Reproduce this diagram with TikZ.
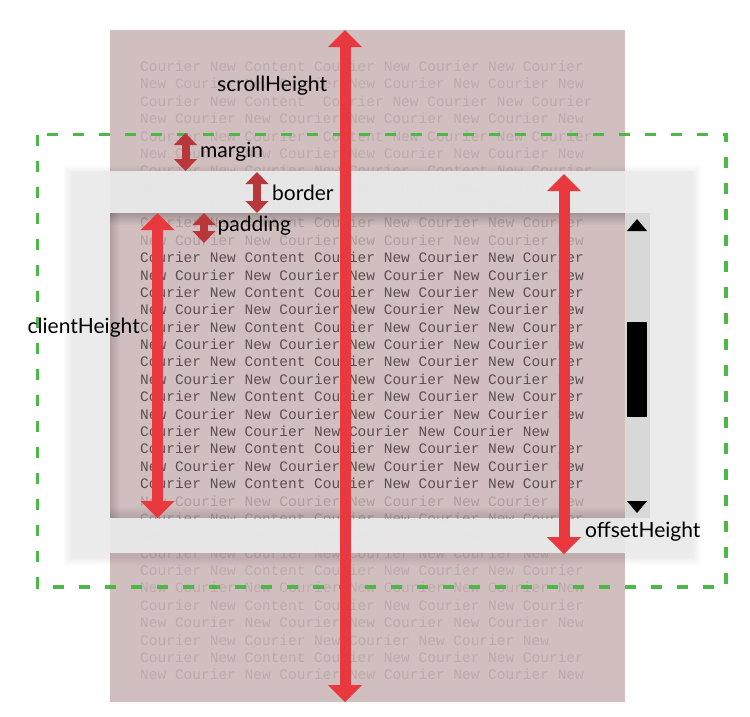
\documentclass[tikz,border=0pt]{standalone}
\usepackage{fontspec}
\setmainfont{Lato}
\newfontfamily\courfont{Liberation Mono}
\usetikzlibrary{arrows.meta,fadings}
\definecolor{contentbg}{RGB}{209,190,191}
\definecolor{fadetext}{RGB}{190,170,172}
\definecolor{midtext}{RGB}{176,156,158}
\definecolor{darktext}{RGB}{90,80,82}
\definecolor{boxgray}{RGB}{235,235,235}
\definecolor{barbg}{RGB}{216,216,216}
\definecolor{dashgreen}{RGB}{76,184,72}
\definecolor{bigred}{RGB}{233,56,62}
\definecolor{smallred}{RGB}{184,55,58}
\tikzfading[name=fadedown, top color=transparent!0, bottom color=transparent!100]
\tikzfading[name=fadeup, top color=transparent!100, bottom color=transparent!0]
\tikzfading[name=faderight, left color=transparent!0, right color=transparent!100]
\newcommand\cnA{Courier New Content Courier New Courier New Courier}
\newcommand\cnB{New Courier New Courier New Courier New Courier New}
\newcommand\cnC{Courier New Content\space\space Courier New Courier New Courier}
\newcommand\cnD{Courier New Courier New Courier New Courier New}
\newcommand\cnE{Courier New Courier\space\space Content New Courier New Courier}
\newcommand\cnF{Courier New Courier New Courier\space\space Content New Courier}
\tikzset{
  codeline/.style={anchor=base west, inner sep=0pt, font=\courfont\fontsize{14.5}{17}\selectfont},
  lbl/.style={anchor=base west, inner sep=0pt, font=\fontsize{21}{25}\selectfont, text=black},
  bigarrow/.style={bigred, line width=11pt,
    {Triangle[width=34pt,length=17pt,line width=0pt]}-{Triangle[width=34pt,length=17pt,line width=0pt]}},
  smallarrow/.style={smallred, line width=8pt,
    {Triangle[width=23pt,length=12pt,line width=0pt]}-{Triangle[width=23pt,length=12pt,line width=0pt]}},
  marginbox/.style={dashgreen, line width=3.5pt, dash pattern=on 11pt off 15pt}
}
\begin{document}
\begin{tikzpicture}[x=1pt,y=-1pt]
\useasboundingbox (0,0) rectangle (750,716);
\fill[white] (0,0) rectangle (750,716);
% scrollable content
\fill[contentbg] (110,30) rectangle (625,702);
\foreach \t [count=\i from 0] in {\cnA,\cnB,\cnC,\cnB,\cnE,\cnB,\cnF,\cnB,\cnA,\cnA,\cnB,\cnA,\cnB,\cnA,\cnB,\cnA,\cnB,\cnA,\cnB,\cnA,\cnB,\cnD,\cnA,\cnB,\cnA,\cnB,\cnA,\cnB,\cnD,\cnA,\cnB,\cnA,\cnB,\cnD,\cnA,\cnB}{
  \node[codeline, text=fadetext] (row\i) at (140,71.5+17.38*\i) {\t};
}
% margin box
\draw[marginbox] (37.5,134.5) rectangle (726,587);
% outer box shadow
\foreach \k in {1,...,9}{
  \fill[black, opacity=0.008] (72-\k,174-\k) rectangle (692+\k,557+\k);
}
\fill[boxgray, opacity=0.92] (72,171) rectangle (692,553);
% viewport
\begin{scope}
\clip (110,213) rectangle (625,518);
\fill[contentbg] (110,213) rectangle (625,518);
\foreach \t [count=\i from 9] in {\cnA,\cnB,\cnA,\cnB,\cnA,\cnB,\cnA,\cnB,\cnA,\cnB,\cnA,\cnB,\cnD,\cnA,\cnB,\cnA,\cnB,\cnA}{
  \pgfmathsetmacro\tc{(\i>10 && \i<25) ? 1 : 0}
  \ifdim\tc pt>0.5pt
    \node[codeline, text=darktext] (vrow\i) at (140,71.5+17.38*\i) {\t};
  \else
    \node[codeline, text=midtext] (vrow\i) at (140,71.5+17.38*\i) {\t};
  \fi
}
\fill[black, opacity=0.22, path fading=fadedown] (110,213) rectangle (625,225);
\fill[black, opacity=0.15, path fading=fadeup] (110,506) rectangle (625,518);
\fill[black, opacity=0.15, path fading=faderight] (110,213) rectangle (120,518);
\end{scope}
% scrollbar
\fill[barbg] (625,213) rectangle (650,518);
\fill[black] (627,322) rectangle (647,417);
\fill[black] (627,231) -- (647,231) -- (637,219) -- cycle;
\fill[black] (627,501) -- (647,501) -- (637,513) -- cycle;
% arrows
\coordinate (sT) at (345,30);   \coordinate (sB) at (345,702);
\coordinate (oT) at (564,174);  \coordinate (oB) at (564,554);
\coordinate (cT) at (157.5,213);\coordinate (cB) at (157.5,518);
\coordinate (mT) at (185.5,133);\coordinate (mB) at (185.5,171);
\coordinate (bT) at (257,172);  \coordinate (bB) at (257,213);
\coordinate (pT) at (204,213);  \coordinate (pB) at (204,243);
\draw[bigarrow] (sT) -- (sB);
\draw[bigarrow] (oT) -- (oB);
\draw[bigarrow] (cT) -- (cB);
\draw[smallarrow] (mT) -- (mB);
\draw[smallarrow] (bT) -- (bB);
\draw[smallarrow] (pT) -- (pB);
% labels
\node[lbl] (lscroll) at (217,91.5) {scrollHeight};
\node[lbl] (lmargin) at (200,157) {margin};
\node[lbl] (lborder) at (272,200) {border};
\node[lbl] (lpadding) at (217.5,231.5) {padding};
\node[lbl] (lclient) at (27.5,333) {clientHeight};
\node[lbl] (loffset) at (585,537.5) {offsetHeight};
\end{tikzpicture}
\end{document}
